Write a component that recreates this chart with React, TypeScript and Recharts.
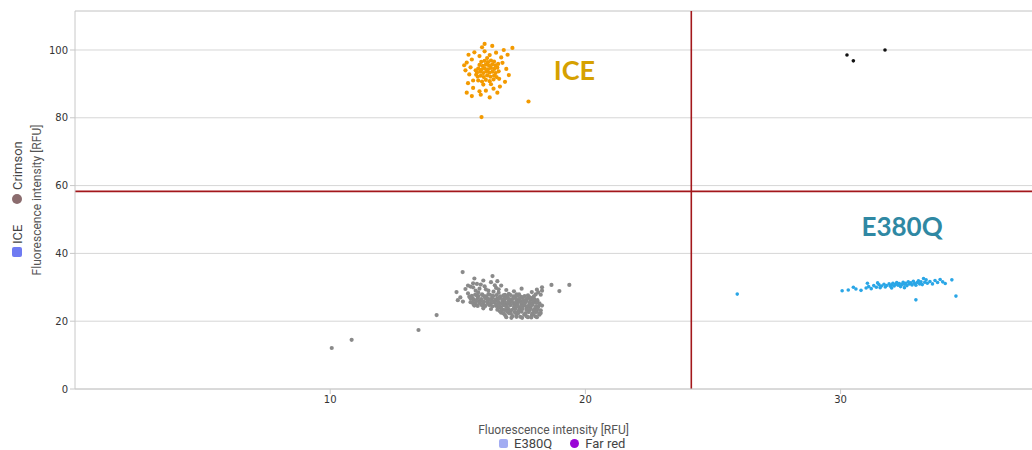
import React from 'react'
import {
  ScatterChart,
  Scatter,
  XAxis,
  YAxis,
  CartesianGrid,
  ReferenceLine,
  ReferenceDot,
} from 'recharts'

// [x, y] pairs (RFU)
const icePoints: [number, number][] = [
  [15.8, 91.0], [15.95, 90.7], [16.1, 91.2], [16.25, 90.8], [16.4, 91.3],
  [15.78, 92.1], [15.9, 92.4], [16.02, 92.0], [16.15, 92.5], [16.28, 92.1], [16.42, 92.4], [16.52, 92.0],
  [15.75, 93.3], [15.88, 93.6], [16.0, 93.2], [16.12, 93.7], [16.24, 93.3], [16.36, 93.6], [16.48, 93.2],
  [15.8, 94.5], [15.93, 94.2], [16.05, 94.6], [16.18, 94.3], [16.3, 94.7], [16.43, 94.4], [16.55, 94.8],
  [15.85, 95.6], [15.98, 95.3], [16.1, 95.7], [16.22, 95.4], [16.35, 95.8], [16.47, 95.5],
  [15.92, 96.5], [16.05, 96.8], [16.18, 96.4], [16.3, 96.9], [16.42, 96.6],
  [15.7, 94.0], [15.72, 92.7], [16.6, 93.7], [16.58, 95.9], [16.15, 97.6], [16.0, 89.8], [16.3, 89.9],
  [16.62, 91.5],
  [15.25, 95.5], [15.3, 94.0], [15.35, 96.3], [15.45, 92.8], [15.5, 94.9], [15.55, 97.2], [15.6, 91.0],
  [15.42, 98.6], [15.65, 99.3], [15.85, 98.2], [16.05, 99.6], [15.95, 100.8], [16.25, 98.5], [16.35, 101.2],
  [16.5, 99.2], [16.7, 97.8], [16.8, 100.0], [16.75, 96.2], [16.9, 94.4], [16.95, 98.6], [17.0, 92.6],
  [16.85, 90.6], [16.65, 89.2], [16.4, 88.6], [16.1, 88.0], [15.85, 87.8], [15.6, 88.8], [15.4, 90.2],
  [15.35, 87.4], [15.55, 86.4], [15.9, 86.8], [16.25, 86.0], [16.55, 87.4], [16.05, 101.8], [17.14, 100.6],
  [17.77, 84.8], [15.93, 80.2],
]

const crimsonPoints: [number, number][] = [
  [15.3, 29.5], [15.5, 30.2], [15.7, 29.0], [15.9, 30.8], [16.1, 29.4], [16.3, 31.5], [16.5, 29.8],
  [16.7, 30.5], [16.9, 29.2], [17.2, 28.8], [17.5, 29.6], [15.4, 28.2], [15.8, 28.5], [16.2, 28.0],
  [16.6, 28.4], [17.0, 28.1], [17.4, 27.9], [17.9, 28.6], [18.1, 29.3], [18.3, 30.0], [15.6, 31.2],
  [16.0, 32.0],
  [15.45, 27.2], [15.6, 26.5], [15.75, 27.6], [15.9, 26.0], [16.05, 27.3], [16.2, 26.4], [16.35, 27.5],
  [16.5, 26.1], [16.65, 27.0], [16.8, 26.6], [16.95, 27.4], [17.1, 26.2], [17.25, 27.1], [17.4, 26.5],
  [17.55, 27.0], [17.7, 26.3], [17.85, 26.9], [18.0, 26.4], [15.5, 25.6], [15.7, 25.2], [15.85, 25.8],
  [16.0, 25.1], [16.15, 25.7], [16.3, 25.3], [16.45, 25.9], [16.6, 25.2], [16.75, 25.6], [16.9, 25.0],
  [17.05, 25.5], [17.2, 25.1], [17.35, 25.7], [17.5, 25.2], [17.65, 25.6], [17.8, 25.0], [17.95, 25.4],
  [18.1, 25.8], [15.55, 26.9], [15.95, 27.9], [16.4, 28.7], [16.85, 27.8], [17.3, 27.9], [17.75, 27.6],
  [16.1, 26.8], [16.55, 26.7], [17.0, 26.0], [17.45, 25.9], [15.65, 24.6], [16.0, 24.4], [16.25, 24.8],
  [16.5, 24.5],
  [16.6, 24.0], [16.75, 23.4], [16.9, 24.2], [17.05, 23.0], [17.2, 23.8], [17.35, 22.6], [17.5, 23.5],
  [17.65, 22.3], [17.8, 23.2], [17.95, 22.0], [18.1, 23.0], [18.25, 22.4], [16.7, 22.5], [16.85, 21.8],
  [17.0, 22.4], [17.15, 21.5], [17.3, 22.0], [17.45, 21.3], [17.6, 21.9], [17.75, 21.2], [17.9, 21.7],
  [18.05, 21.4], [18.2, 21.9], [16.95, 23.6], [17.25, 24.3], [17.55, 24.5], [17.85, 24.0], [18.15, 24.2],
  [16.8, 24.8], [17.4, 24.1], [17.7, 23.9], [18.0, 23.6], [18.3, 24.6], [18.2, 25.3],
  [15.55, 27.5], [15.68, 27.8], [15.81, 27.4], [15.97, 27.7], [16.12, 27.3], [16.26, 27.8], [16.39, 27.4],
  [16.52, 27.7], [16.66, 27.3], [16.79, 27.6], [16.93, 27.2], [17.07, 27.7], [17.19, 27.3], [17.33, 27.5],
  [17.48, 27.2], [17.62, 27.4], [17.8, 27.1], [17.98, 27.3],
  [15.5, 26.7], [15.63, 26.4], [15.78, 26.8], [15.92, 26.5], [16.07, 26.9], [16.21, 26.5], [16.34, 26.8],
  [16.48, 26.4], [16.61, 26.7], [16.74, 26.3], [16.88, 26.8], [17.02, 26.5], [17.16, 26.7], [17.29, 26.3],
  [17.43, 26.6], [17.57, 26.2], [17.71, 26.7], [17.84, 26.3], [17.97, 26.6], [18.12, 26.2],
  [15.58, 25.5], [15.72, 25.9], [15.86, 25.4], [16.02, 25.8], [16.17, 25.4], [16.31, 25.9], [16.44, 25.5],
  [16.58, 25.8], [16.71, 25.3], [16.85, 25.7], [16.98, 25.3], [17.12, 25.8], [17.26, 25.4], [17.4, 25.8],
  [17.53, 25.4], [17.67, 25.9], [17.82, 25.5], [17.96, 25.9], [18.08, 25.4],
  [15.62, 24.9], [15.78, 24.5], [15.93, 24.8], [16.08, 24.5], [16.22, 24.9], [16.36, 24.4], [16.51, 24.8],
  [16.65, 24.4], [16.79, 24.7], [16.92, 24.3], [17.06, 24.7], [17.21, 24.4], [17.35, 24.8], [17.49, 24.3],
  [17.63, 24.7], [17.78, 24.4], [17.92, 24.8], [18.06, 24.3], [18.2, 24.8],
  [16.0, 23.8], [16.3, 23.6], [16.55, 23.4], [16.7, 23.8], [16.83, 23.3], [16.97, 23.7], [17.11, 23.3],
  [17.26, 23.6], [17.4, 23.2], [17.54, 23.7], [17.69, 23.3], [17.83, 23.6], [17.97, 23.2], [18.12, 23.7],
  [18.25, 23.2],
  [16.65, 22.9], [16.79, 22.3], [16.93, 22.8], [17.08, 22.2], [17.22, 22.7], [17.36, 22.3], [17.5, 22.8],
  [17.64, 22.2], [17.78, 22.7], [17.92, 22.3], [18.06, 22.7], [18.19, 22.2],
  [16.9, 21.2], [17.1, 21.0], [17.3, 21.3], [17.52, 21.0], [17.7, 21.4], [17.88, 21.1], [18.1, 21.2],
  [15.4, 30.5], [15.6, 30.0], [15.75, 31.0], [15.85, 29.6], [16.05, 30.3], [16.2, 29.0], [16.45, 30.6],
  [16.6, 29.4], [16.55, 31.8], [15.65, 32.6],
  [18.15, 28.5], [18.25, 27.8], [18.05, 27.9], [18.3, 29.0],
  [15.19, 34.5], [16.36, 33.3], [19.37, 30.7], [18.98, 28.9], [18.67, 30.7], [14.95, 28.6], [14.17, 21.8],
  [13.46, 17.4], [10.84, 14.5], [10.06, 12.1], [15.1, 27.0], [15.2, 25.8], [15.0, 26.2],
]

const e380qPoints: [number, number][] = [
  [30.06, 29.0], [30.3, 29.2], [30.6, 29.5], [30.8, 29.1], [31.0, 29.8], [31.1, 30.2], [31.2, 29.6],
  [31.3, 30.5], [31.4, 30.0], [31.5, 30.8], [31.55, 29.9], [31.6, 30.4], [31.7, 30.9], [31.75, 30.1],
  [31.8, 30.5], [31.9, 31.0], [31.95, 30.3], [32.0, 30.7], [32.05, 31.2], [32.1, 30.4], [32.15, 30.9],
  [32.2, 31.4], [32.25, 30.6], [32.3, 31.1], [32.35, 30.2], [32.4, 30.8], [32.45, 31.5], [32.5, 30.9],
  [32.55, 31.2], [32.6, 30.5], [32.65, 31.6], [32.7, 31.0], [32.75, 31.3], [32.8, 30.7], [32.85, 31.8],
  [32.9, 31.1], [32.95, 30.6], [33.0, 31.4], [33.05, 31.9], [33.1, 31.0], [33.15, 31.6], [33.2, 30.8],
  [33.3, 31.5], [33.35, 32.2], [33.4, 31.2], [33.5, 31.7], [33.6, 31.0], [33.7, 32.0], [33.8, 31.4],
  [33.9, 32.3], [34.0, 31.6], [34.1, 31.1], [34.36, 32.2], [31.05, 31.2], [31.45, 31.3], [32.0, 29.8],
  [32.5, 29.9], [33.25, 32.6], [30.5, 30.0], [25.95, 28.0], [32.95, 26.3], [34.52, 27.4],
]

const doublePoints: [number, number][] = [
  [30.25, 98.5], [30.5, 96.8], [31.74, 100.0],
]

const xTicks = [10, 20, 30]
const yTicks = [0, 20, 40, 60, 80, 100]
const xMax = 37.5
const yMax = 111.5
const xThreshold = 24.15
const yThreshold = 58.3

const toRows = (pts: [number, number][]) => pts.map(([x, y]) => ({ x, y }))

const Dot = (props: any) => <circle cx={props.cx} cy={props.cy} r={1.8} fill={props.fill} />
const BigDot = (props: any) => <circle cx={props.cx} cy={props.cy} r={2.1} fill={props.fill} />

const axisFont = 'DejaVu Sans, Verdana, sans-serif'
const labelFont = 'Roboto, Arial, sans-serif'

function LeftSide() {
  return (
    <g fontFamily={labelFont}>
      <g transform="translate(17,200) rotate(-90)">
        <rect x={-57} y={-5} width={10} height={10} rx={2} fill="#6f7bf2" />
        <text x={-44} y={0} dominantBaseline="central" fontSize={13} fill="#444">ICE</text>
        <circle cx={1} cy={0} r={5} fill="#8b6c6e" />
        <text x={10} y={0} dominantBaseline="central" fontSize={13} fill="#444">Crimson</text>
      </g>
      <text
        x={37}
        y={200}
        transform="rotate(-90 37 200)"
        textAnchor="middle"
        dominantBaseline="central"
        fontSize={12}
        fill="#555"
      >
        Fluorescence intensity [RFU]
      </text>
    </g>
  )
}

export default function App() {
  return (
    <div style={{ position: 'absolute', left: 0, top: 0, width: 1032, height: 450, background: '#fff', overflow: 'hidden' }}>
      <ScatterChart width={1032} height={450} margin={{ top: 11, right: 0, left: 0, bottom: 0 }}>
        <CartesianGrid vertical={false} stroke="#d6d6d6" />
        <XAxis
          type="number"
          dataKey="x"
          domain={[0, xMax]}
          ticks={xTicks}
          height={61}
          stroke="#c8c8c8"
          tickSize={5}
          tick={{ fill: '#333', fontSize: 10, fontFamily: axisFont }}
          label={{ value: 'Fluorescence intensity [RFU]', position: 'insideBottom', offset: 16, fill: '#555', fontSize: 12, fontFamily: labelFont }}
        />
        <YAxis
          type="number"
          dataKey="y"
          domain={[0, yMax]}
          ticks={yTicks}
          width={75}
          stroke="#c8c8c8"
          tickSize={5}
          tick={{ fill: '#333', fontSize: 10, fontFamily: axisFont }}
          label={{ content: () => <LeftSide /> }}
        />
        <ReferenceLine y={yMax} stroke="#d6d6d6" />
        <Scatter data={toRows(crimsonPoints)} fill="#8a8a8a" shape={BigDot} isAnimationActive={false} />
        <Scatter data={toRows(icePoints)} fill="#f39a00" shape={BigDot} isAnimationActive={false} />
        <Scatter data={toRows(e380qPoints)} fill="#2aa6e6" shape={Dot} isAnimationActive={false} />
        <Scatter data={toRows(doublePoints)} fill="#111" shape={Dot} isAnimationActive={false} />
        <ReferenceLine x={xThreshold} stroke="#a3171b" strokeWidth={1.6} />
        <ReferenceLine y={yThreshold} stroke="#a3171b" strokeWidth={1.6} />
        <ReferenceDot
          x={19.57}
          y={94.1}
          r={0}
          label={{ value: 'ICE', position: 'center', fill: '#d6a100', fontSize: 27, fontWeight: 700, fontFamily: 'Lato, sans-serif' }}
        />
        <ReferenceDot
          x={32.41}
          y={47.8}
          r={0}
          label={{ value: 'E380Q', position: 'center', fill: '#2f88a3', fontSize: 26, fontWeight: 700, fontFamily: 'Lato, sans-serif' }}
        />
      </ScatterChart>
      <div
        style={{
          position: 'absolute',
          top: 437,
          left: 499,
          display: 'flex',
          alignItems: 'center',
          gap: 18,
          fontFamily: labelFont,
          fontSize: 13,
          lineHeight: '13px',
          color: '#444',
          whiteSpace: 'nowrap',
        }}
      >
        <span style={{ display: 'flex', alignItems: 'center', gap: 6 }}>
          <span style={{ width: 9, height: 9, borderRadius: 2, background: '#a2acf2', display: 'inline-block' }} />
          E380Q
        </span>
        <span style={{ display: 'flex', alignItems: 'center', gap: 6 }}>
          <span style={{ width: 9, height: 9, borderRadius: 5, background: '#9a06d6', display: 'inline-block' }} />
          Far red
        </span>
      </div>
    </div>
  )
}
